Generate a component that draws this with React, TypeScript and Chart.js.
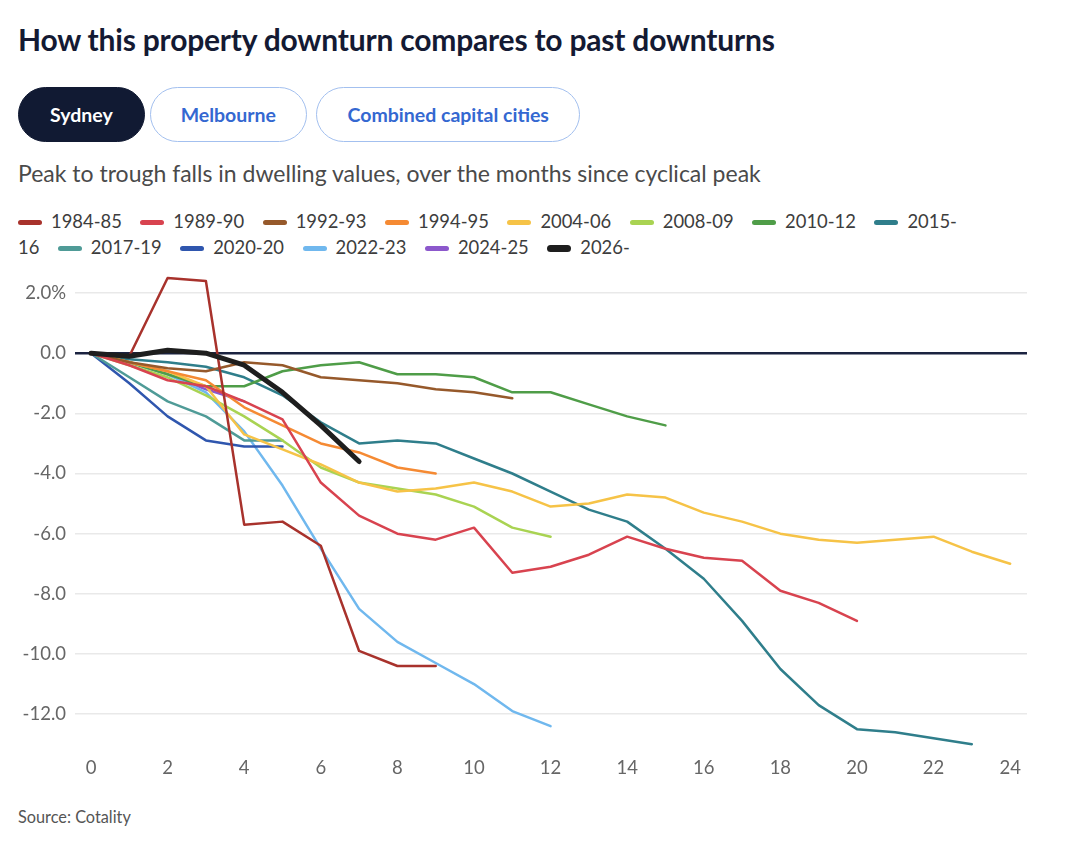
import React, { useEffect, useRef } from "react";
import { Chart, registerables } from "chart.js";

Chart.register(...registerables);

const X_TICKS = [0, 2, 4, 6, 8, 10, 12, 14, 16, 18, 20, 22, 24];
const Y_TICKS = [2, 0, -2, -4, -6, -8, -10, -12];

const SERIES_NAMES = [
  "1984-85", "1989-90", "1992-93", "1994-95", "2004-06", "2008-09", "2010-12",
  "2015-16", "2017-19", "2020-20", "2022-23", "2024-25", "2026-",
];

const SERIES_COLORS = [
  "#a8322c", "#d8434f", "#96592b", "#f58a33", "#f6c347", "#a9d352", "#4f9d48",
  "#2f7e8b", "#4f9b97", "#2f56ae", "#70b8ee", "#8c58cc", "#1e1e1e",
];

const S1984 = [0, -0.1, 2.5, 2.4, -5.7, -5.6, -6.4, -9.9, -10.4, -10.4];
const S1989 = [0, -0.4, -0.9, -1.1, -1.6, -2.2, -4.3, -5.4, -6.0, -6.2, -5.8, -7.3, -7.1, -6.7, -6.1, -6.5, -6.8, -6.9, -7.9, -8.3, -8.9];
const S1992 = [0, -0.3, -0.5, -0.6, -0.3, -0.4, -0.8, -0.9, -1.0, -1.2, -1.3, -1.5];
const S1994 = [0, -0.3, -0.6, -0.9, -1.8, -2.4, -3.0, -3.3, -3.8, -4.0];
const S2004 = [0, -0.3, -0.6, -1.1, -2.7, -3.2, -3.7, -4.3, -4.6, -4.5, -4.3, -4.6, -5.1, -5.0, -4.7, -4.8, -5.3, -5.6, -6.0, -6.2, -6.3, -6.2, -6.1, -6.6, -7.0];
const S2008 = [0, -0.4, -0.8, -1.4, -2.1, -2.9, -3.8, -4.3, -4.5, -4.7, -5.1, -5.8, -6.1];
const S2010 = [0, -0.3, -0.7, -1.1, -1.1, -0.6, -0.4, -0.3, -0.7, -0.7, -0.8, -1.3, -1.3, -1.7, -2.1, -2.4];
const S2015 = [0, -0.2, -0.3, -0.45, -0.8, -1.4, -2.3, -3.0, -2.9, -3.0, -3.5, -4.0, -4.6, -5.2, -5.6, -6.5, -7.5, -8.9, -10.5, -11.7, -12.5, -12.6, -12.8, -13.0];
const S2017 = [0, -0.8, -1.6, -2.1, -2.9, -2.9];
const S2020 = [0, -1.0, -2.1, -2.9, -3.1, -3.1];
const S2022 = [0, -0.3, -0.7, -1.3, -2.6, -4.4, -6.5, -8.5, -9.6, -10.3, -11.0, -11.9, -12.4];
const S2024 = [0, -0.3, -0.7, -1.2, -1.6];
const S2026 = [0, -0.1, 0.1, 0.0, -0.4, -1.3, -2.4, -3.6];

const SERIES_VALUES = [S1984, S1989, S1992, S1994, S2004, S2008, S2010, S2015, S2017, S2020, S2022, S2024, S2026];

const CITIES = ["Sydney", "Melbourne", "Combined capital cities"];

const FONT = "Lato, 'Noto Sans', sans-serif";

function ChartCanvas() {
  const ref = useRef<HTMLCanvasElement | null>(null);
  useEffect(() => {
    if (!ref.current) return;
    const datasets = SERIES_NAMES.map((name, i) => {
      const isCurrent = i === SERIES_NAMES.length - 1;
      return {
        label: name,
        data: SERIES_VALUES[i].map((v, m) => ({ x: m, y: v })),
        borderColor: SERIES_COLORS[i],
        backgroundColor: SERIES_COLORS[i],
        borderWidth: isCurrent ? 5 : 2.5,
        pointRadius: 0,
        tension: 0,
        borderCapStyle: "round" as const,
        borderJoinStyle: "round" as const,
        order: isCurrent ? -1 : 0,
      };
    });
    const chart = new Chart(ref.current, {
      type: "line",
      data: { datasets },
      options: {
        animation: false,
        responsive: false,
        maintainAspectRatio: false,
        devicePixelRatio: 1,
        layout: { padding: { left: 0, right: 53, top: 8, bottom: 10 } },
        plugins: { legend: { display: false }, tooltip: { enabled: false } },
        scales: {
          x: {
            type: "linear",
            min: -0.418,
            max: 24.44,
            grid: { display: false, drawTicks: false },
            border: { display: false },
            afterBuildTicks: (s: any) => {
              s.ticks = X_TICKS.map((v) => ({ value: v }));
            },
            afterFit: (s: any) => {
              s.height = 30;
            },
            ticks: {
              padding: 5,
              color: "#666",
              font: { family: FONT, size: 18.5 },
              maxRotation: 0,
              autoSkip: false,
            },
          },
          y: {
            type: "linear",
            min: -13.26,
            max: 2.73,
            border: { display: false },
            grid: {
              drawTicks: false,
              color: (ctx: any) => (ctx.tick && ctx.tick.value === 0 ? "#1b2340" : "#e9e9e9"),
              lineWidth: (ctx: any) => (ctx.tick && ctx.tick.value === 0 ? 2.5 : 1.5),
            },
            afterBuildTicks: (s: any) => {
              s.ticks = Y_TICKS.map((v) => ({ value: v }));
            },
            afterFit: (s: any) => {
              s.width = 75;
            },
            ticks: {
              padding: 9,
              color: "#666",
              font: { family: FONT, size: 18.5 },
              callback: (v: any) => {
                const n = Number(v);
                const t = n.toFixed(1);
                return n === Y_TICKS[0] ? t + "%" : t;
              },
            },
          },
        },
      },
    });
    return () => chart.destroy();
  }, []);
  return <canvas ref={ref} width={1080} height={541} style={{ position: "absolute", left: 0, top: 251, width: 1080, height: 541 }} />;
}

const PILL_GAPS = [0, 5, 9];
const PILL_PADS = [31, 30, 30.5];

export default function App() {
  return (
    <div style={{ position: "absolute", left: 0, top: 0, width: 1080, height: 845, background: "#fff", fontFamily: FONT, overflow: "hidden" }}>
      <div style={{ position: "absolute", left: 18, top: 21, fontSize: 30, fontWeight: 700, color: "#141a33", whiteSpace: "nowrap", letterSpacing: -0.2 }}>
        How this property downturn compares to past downturns
      </div>
      <div style={{ position: "absolute", left: 18, top: 87, display: "flex" }}>
        {CITIES.map((c, i) => (
          <div
            key={c}
            style={{
              height: 55,
              marginLeft: PILL_GAPS[i],
              boxSizing: "border-box",
              borderRadius: 28,
              padding: `0 ${PILL_PADS[i]}px`,
              display: "flex",
              alignItems: "center",
              fontSize: 19.5,
              fontWeight: 700,
              background: i === 0 ? "#111a33" : "#fff",
              color: i === 0 ? "#fff" : "#3468d1",
              border: i === 0 ? "1.5px solid #111a33" : "1.5px solid #a3c0ef",
              whiteSpace: "nowrap",
            }}
          >
            {c}
          </div>
        ))}
      </div>
      <div style={{ position: "absolute", left: 18, top: 159, fontSize: 23, color: "#4a4a4a", whiteSpace: "nowrap" }}>
        Peak to trough falls in dwelling values, over the months since cyclical peak
      </div>
      <div style={{ position: "absolute", left: 18, top: 208, width: 945, fontSize: 18.4, lineHeight: "26px", color: "#3d3d3d" }}>
        {SERIES_NAMES.map((name, i) => {
          const cut = name.indexOf("-") + 1;
          const head = name.slice(0, cut);
          const tail = name.slice(cut);
          const isCurrent = i === SERIES_NAMES.length - 1;
          return (
            <React.Fragment key={name}>
              <span style={{ display: "inline-block", whiteSpace: "nowrap" }}>
                <span
                  style={{
                    display: "inline-block",
                    width: 24,
                    height: isCurrent ? 7 : 4.5,
                    borderRadius: 4,
                    background: SERIES_COLORS[i],
                    verticalAlign: "middle",
                    marginRight: 9,
                    position: "relative",
                    top: -1,
                  }}
                />
                {head}
              </span>
              {tail ? <span>{tail}</span> : null}
              {i < SERIES_NAMES.length - 1 ? <span style={{ display: "inline-block", width: 18.5 }} /> : null}
            </React.Fragment>
          );
        })}
      </div>
      <ChartCanvas />
      <div style={{ position: "absolute", left: 18, top: 807, fontSize: 16.3, color: "#555", whiteSpace: "nowrap" }}>Source: Cotality</div>
    </div>
  );
}
